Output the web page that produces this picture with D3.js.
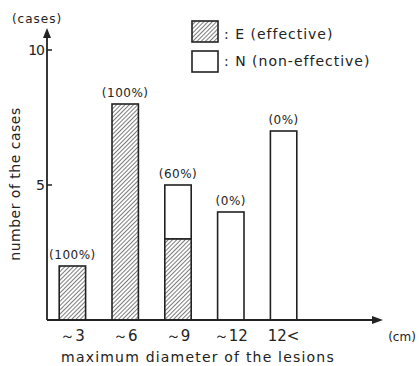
<!DOCTYPE html>
<html>
<head>
<meta charset="utf-8">
<script src="https://cdn.jsdelivr.net/npm/d3@7"></script>
<style>
  body { margin: 0; background: #fff; }
  svg { display: block; font-family: "DejaVu Sans", sans-serif; fill: #222; }
</style>
</head>
<body>
<svg id="chart" width="419" height="366"></svg>
<script>
const categories = ["～3", "～6", "～9", "～12", "12<"];
const effective = [2, 8, 3, 0, 0];
const nonEffective = [0, 0, 2, 4, 7];
const percentLabels = ["(100%)", "(100%)", "(60%)", "(0%)", "(0%)"];
const yTicks = [5, 10];

const svg = d3.select("#chart");
const ink = "#222";

const x0 = 47, y0 = 320;
const x = d3.scaleBand().domain(categories).range([46, 310]).paddingInner(0.5).paddingOuter(0.25);
const y = d3.scaleLinear().domain([0, 10]).range([y0, 50]);

// hatch pattern
const defs = svg.append("defs");
const pat = defs.append("pattern")
  .attr("id", "hatch")
  .attr("patternUnits", "userSpaceOnUse")
  .attr("width", 3).attr("height", 3)
  .attr("patternTransform", "rotate(45)");
pat.append("rect").attr("width", 3).attr("height", 3).attr("fill", "#fff");
pat.append("line").attr("x1", 0).attr("y1", 0).attr("x2", 0).attr("y2", 3)
  .attr("stroke", "#333").attr("stroke-width", 1.3);

// bars
const g = svg.append("g");
categories.forEach((c, i) => {
  const bx = x(c), bw = x.bandwidth();
  const e = effective[i], n = nonEffective[i];
  if (n > 0) {
    g.append("rect").attr("x", bx).attr("y", y(e + n)).attr("width", bw)
      .attr("height", y(e) - y(e + n)).attr("fill", "#fff")
      .attr("stroke", ink).attr("stroke-width", 1.6);
  }
  if (e > 0) {
    g.append("rect").attr("x", bx).attr("y", y(e)).attr("width", bw)
      .attr("height", y(0) - y(e)).attr("fill", "url(#hatch)")
      .attr("stroke", ink).attr("stroke-width", 1.6);
  }
  g.append("text").attr("x", bx + bw / 2).attr("y", y(e + n) - 7)
    .attr("text-anchor", "middle").attr("font-size", 12).attr("letter-spacing", 0.5)
    .text(percentLabels[i]);
});

// axes
svg.append("line").attr("x1", x0).attr("y1", y0).attr("x2", x0).attr("y2", 32)
  .attr("stroke", ink).attr("stroke-width", 1.8);
svg.append("path").attr("d", `M${x0 - 4},${38} L${x0},${28} L${x0 + 4},${38} Z`).attr("fill", ink);
svg.append("line").attr("x1", x0).attr("y1", y0).attr("x2", 378).attr("y2", y0)
  .attr("stroke", ink).attr("stroke-width", 1.8);
svg.append("path").attr("d", `M${372},${y0 - 4} L${383},${y0} L${372},${y0 + 4} Z`).attr("fill", ink);

yTicks.forEach(t => {
  svg.append("line").attr("x1", x0).attr("x2", x0 + 5).attr("y1", y(t)).attr("y2", y(t))
    .attr("stroke", ink).attr("stroke-width", 1.5);
  svg.append("text").attr("x", x0 - 3).attr("y", y(t) + 5).attr("text-anchor", "end")
    .attr("font-size", 14).attr("letter-spacing", -1).text(t);
});

categories.forEach(c => {
  svg.append("text").attr("x", x(c) + x.bandwidth() / 2).attr("y", 341)
    .attr("text-anchor", "middle").attr("font-size", 15).text(c);
});

svg.append("text").attr("x", 402).attr("y", 341).attr("text-anchor", "middle")
  .attr("font-size", 12).text("(cm)");
svg.append("text").attr("x", 37).attr("y", 23).attr("text-anchor", "middle")
  .attr("font-size", 12).attr("letter-spacing", 1).text("(cases)");
svg.append("text").attr("x", 198).attr("y", 362).attr("text-anchor", "middle")
  .attr("font-size", 14).attr("letter-spacing", 1.2).text("maximum diameter of the lesions");
svg.append("text").attr("transform", "translate(20,184) rotate(-90)")
  .attr("text-anchor", "middle").attr("font-size", 14).attr("letter-spacing", 0.5)
  .text("number of the cases");

// legend
const legend = [
  { fill: "url(#hatch)", label: ": E (effective)", y: 21, ty: 39 },
  { fill: "#fff", label: ": N (non-effective)", y: 51, ty: 66 }
];
legend.forEach(l => {
  svg.append("rect").attr("x", 192).attr("y", l.y).attr("width", 26).attr("height", 21)
    .attr("fill", l.fill).attr("stroke", ink).attr("stroke-width", 1.6);
  svg.append("text").attr("x", 224).attr("y", l.ty).attr("font-size", 14)
    .attr("letter-spacing", 1).text(l.label);
});
</script>
</body>
</html>
